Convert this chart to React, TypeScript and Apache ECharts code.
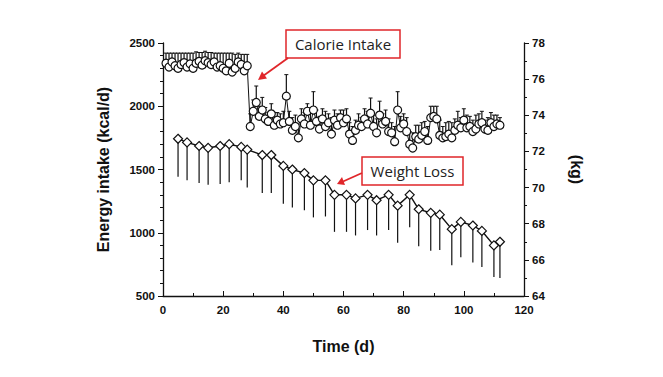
import React, { useEffect, useRef } from "react";
import * as echarts from "echarts";

// Daily energy intake (kcal/d), days 1..112
const calorieDays: number[] = Array.from({ length: 112 }, (_, i) => i + 1);
const calorieValues: number[] = [
  2340, 2310, 2350, 2320, 2300, 2330, 2345, 2310, 2335, 2300, 2340, 2355, 2325, 2360,
  2345, 2330, 2350, 2310, 2320, 2300, 2280, 2340, 2270, 2300, 2350, 2330, 2280, 2320,
  1840, 1960, 2030, 1920, 1970, 1900, 1880, 1940, 1850, 1890, 1860, 1870, 2080, 1880,
  1810, 1840, 1750, 1900, 1860, 1960, 1850, 1970, 1880, 1820, 1900, 1840, 1870, 1780,
  1890, 1850, 1910, 1870, 1900, 1780, 1730, 1810, 1850, 1840, 1900, 1860, 1945, 1840,
  1790, 1930, 1860, 1880, 1800, 1790, 1720, 1970, 1830, 1860, 1800, 1700, 1670, 1760,
  1740, 1770, 1800, 1730, 1910, 1920, 1900, 1770, 1750, 1760, 1780, 1750, 1810, 1850,
  1830, 1890, 1830, 1840, 1800, 1820, 1860, 1870, 1820, 1810, 1870, 1840, 1860, 1850,
];
const calorieSD: number[] = [
  80, 110, 70, 100, 120, 90, 75, 110, 85, 120, 90, 70, 100, 75,
  80, 95, 70, 110, 100, 120, 140, 80, 150, 110, 70, 80, 130, 90,
  100, 90, 130, 80, 100, 90, 70, 80, 100, 60, 80, 90, 170, 80,
  100, 90, 110, 80, 90, 60, 120, 145, 90, 100, 80, 120, 70, 130,
  80, 90, 60, 100, 80, 90, 110, 80, 90, 70, 80, 100, 120, 90,
  110, 110, 80, 90, 100, 80, 120, 145, 90, 80, 110, 100, 120, 90,
  110, 100, 80, 110, 90, 80, 100, 120, 90, 110, 100, 120, 90, 110,
  80, 90, 100, 80, 90, 110, 80, 90, 70, 100, 80, 90, 70, 60,
];

// Body weight (kg)
const weightDays: number[] = [
  5, 8, 12, 15, 19, 22, 26, 28, 33, 36, 40, 43, 47, 50, 54, 57,
  61, 64, 68, 71, 75, 78, 82, 85, 89, 92, 96, 99, 103, 106, 110, 112,
];
const weightValues: number[] = [
  72.7, 72.5, 72.3, 72.2, 72.3, 72.4, 72.25, 72.1, 71.8, 71.8, 71.2, 71.0, 70.8, 70.4, 70.4, 69.6,
  69.6, 69.4, 69.6, 69.3, 69.6, 69.0, 69.6, 68.8, 68.6, 68.5, 67.7, 68.1, 67.9, 67.6, 66.8, 67.0,
];
const weightSD: number[] = [
  2.1, 2.1, 2.05, 2.05, 2.1, 2.1, 1.85, 2.1, 2.1, 2.1, 2.1, 2.1, 2.05, 2.05, 2.0, 2.05,
  2.05, 2.05, 1.95, 1.95, 1.95, 2.05, 1.8, 2.05, 2.1, 1.95, 2.0, 1.95, 2.05, 2.0, 1.75, 2.0,
];

const xTicks = { min: 0, max: 120, interval: 20 };
const leftTicks = { min: 500, max: 2500, interval: 500 };
const rightTicks = { min: 64, max: 78, interval: 2 };

const FONT = "'Liberation Sans', Arial, sans-serif";

export default function App() {
  const ref = useRef<HTMLDivElement>(null);
  useEffect(() => {
    if (!ref.current) return;
    const chart = echarts.init(ref.current, undefined, { renderer: "svg" });

    const calData = calorieDays.map((d, i) => [d, calorieValues[i]]);
    const calErr = calorieDays.map((d, i) => [d, calorieValues[i], calorieValues[i] + calorieSD[i]]);
    const wData = weightDays.map((d, i) => [d, weightValues[i]]);
    const wErr = weightDays.map((d, i) => [d, weightValues[i], weightValues[i] - weightSD[i]]);

    const errRender = (cap: number) => (params: any, api: any) => {
      const x = api.value(0);
      const y = api.value(1);
      const e = api.value(2);
      const p1 = api.coord([x, y]);
      const p2 = api.coord([x, e]);
      const children: any[] = [
        {
          type: "line",
          shape: { x1: p1[0], y1: p1[1], x2: p2[0], y2: p2[1] },
          style: { stroke: "#111", lineWidth: 1.2 },
        },
      ];
      if (cap > 0) {
        children.push({
          type: "line",
          shape: { x1: p2[0] - cap, y1: p2[1], x2: p2[0] + cap, y2: p2[1] },
          style: { stroke: "#111", lineWidth: 1 },
        });
      }
      return { type: "group", children };
    };

    const plain = (v: number) => String(v);
    const axisText = { color: "#111", fontFamily: FONT, fontWeight: "bold" as const, fontSize: 11.5 };
    const nameText = { color: "#111", fontFamily: FONT, fontWeight: "bold" as const, fontSize: 16 };
    const red = "#e0262a";
    const noteFont = "15px 'Open Sans', 'Liberation Sans', sans-serif";

    chart.setOption({
      animation: false,
      backgroundColor: "#ffffff",
      grid: { left: 163, right: 139, top: 43, bottom: 81, containLabel: false },
      xAxis: {
        type: "value",
        min: xTicks.min,
        max: xTicks.max,
        interval: xTicks.interval,
        name: "Time (d)",
        nameLocation: "middle",
        nameGap: 42,
        nameTextStyle: nameText,
        axisLine: { show: true, lineStyle: { color: "#111", width: 1.3 } },
        axisTick: { show: true, inside: true, length: 5, lineStyle: { color: "#111" } },
        minorTick: { show: true, splitNumber: 2, length: 3, lineStyle: { color: "#111" } },
        axisLabel: { ...axisText, margin: 8, formatter: plain },
        splitLine: { show: false },
      },
      yAxis: [
        {
          type: "value",
          min: leftTicks.min,
          max: leftTicks.max,
          interval: leftTicks.interval,
          name: "Energy intake (kcal/d)",
          nameLocation: "middle",
          nameGap: 52,
          nameTextStyle: nameText,
          axisLine: { show: true, lineStyle: { color: "#111", width: 1.3 } },
          axisTick: { show: true, length: 5, lineStyle: { color: "#111" } },
          minorTick: { show: true, splitNumber: 5, length: 3, lineStyle: { color: "#111" } },
          axisLabel: { ...axisText, margin: 8, formatter: plain },
          splitLine: { show: false },
        },
        {
          type: "value",
          position: "right",
          min: rightTicks.min,
          max: rightTicks.max,
          interval: rightTicks.interval,
          name: "(kg)",
          nameLocation: "middle",
          nameGap: 44,
          nameRotate: -90,
          nameTextStyle: nameText,
          axisLine: { show: true, lineStyle: { color: "#111", width: 1.3 } },
          axisTick: { show: true, length: 5, lineStyle: { color: "#111" } },
          minorTick: { show: true, splitNumber: 2, length: 3, lineStyle: { color: "#111" } },
          axisLabel: { ...axisText, margin: 8, formatter: plain },
          splitLine: { show: false },
        },
      ],
      series: [
        {
          name: "Calorie SD",
          type: "custom",
          xAxisIndex: 0,
          yAxisIndex: 0,
          renderItem: errRender(2),
          data: calErr,
          z: 1,
          silent: true,
        },
        {
          name: "Calorie Intake",
          type: "line",
          xAxisIndex: 0,
          yAxisIndex: 0,
          data: calData,
          symbol: "circle",
          symbolSize: 8,
          showAllSymbol: true,
          lineStyle: { color: "#111", width: 1 },
          itemStyle: { color: "#fff", borderColor: "#111", borderWidth: 1.2 },
          z: 3,
        },
        {
          name: "Weight SD",
          type: "custom",
          xAxisIndex: 0,
          yAxisIndex: 1,
          renderItem: errRender(0),
          data: wErr,
          z: 1,
          silent: true,
        },
        {
          name: "Weight",
          type: "line",
          xAxisIndex: 0,
          yAxisIndex: 1,
          data: wData,
          symbol: "diamond",
          symbolSize: 9,
          showAllSymbol: true,
          lineStyle: { color: "#111", width: 1.4 },
          itemStyle: { color: "#fff", borderColor: "#111", borderWidth: 1.2 },
          z: 3,
        },
      ],
      graphic: [
        {
          type: "rect",
          shape: { x: 286, y: 30, width: 114, height: 28 },
          style: { fill: "#fff", stroke: red, lineWidth: 1.5 },
          z: 10,
        },
        {
          type: "text",
          x: 343,
          y: 44,
          style: {
            text: "Calorie Intake",
            fill: "#222",
            font: noteFont,
            align: "center",
            verticalAlign: "middle",
          },
          z: 11,
        },
        {
          type: "line",
          shape: { x1: 288, y1: 58, x2: 263, y2: 76 },
          style: { stroke: red, lineWidth: 1.8 },
          z: 10,
        },
        {
          type: "polygon",
          shape: { points: [[258, 80], [262, 71.5], [267, 78.5]] },
          style: { fill: red },
          z: 10,
        },
        {
          type: "rect",
          shape: { x: 362, y: 157, width: 101, height: 28 },
          style: { fill: "#fff", stroke: red, lineWidth: 1.5 },
          z: 10,
        },
        {
          type: "text",
          x: 412.5,
          y: 171,
          style: {
            text: "Weight Loss",
            fill: "#222",
            font: noteFont,
            align: "center",
            verticalAlign: "middle",
          },
          z: 11,
        },
        {
          type: "line",
          shape: { x1: 362, y1: 173, x2: 343, y2: 181.5 },
          style: { stroke: red, lineWidth: 1.8 },
          z: 10,
        },
        {
          type: "polygon",
          shape: { points: [[337, 184], [342, 177], [345, 185]] },
          style: { fill: red },
          z: 10,
        },
      ],
    });
    return () => chart.dispose();
  }, []);
  return (
    <div
      ref={ref}
      style={{ position: "fixed", left: 0, top: 0, width: 663, height: 377, background: "#fff" }}
    />
  );
}
